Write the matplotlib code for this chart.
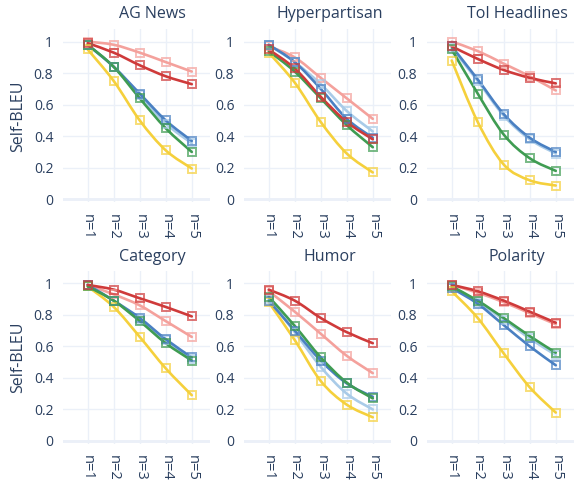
import matplotlib.pyplot as plt
import numpy as np
from matplotlib.path import Path
from matplotlib.patches import PathPatch

plt.rcParams['font.family'] = ['Open Sans', 'DejaVu Sans']

ngrams = ["n=1", "n=2", "n=3", "n=4", "n=5"]
titles = ["AG News", "Hyperpartisan", "ToI Headlines", "Category", "Humor", "Polarity"]

# one list per series, one row per dataset (same order as titles)
pink = [
    [1.00, 0.98, 0.93, 0.87, 0.81],
    [0.97, 0.90, 0.77, 0.64, 0.51],
    [1.00, 0.94, 0.86, 0.78, 0.69],
    [0.99, 0.93, 0.86, 0.76, 0.66],
    [0.95, 0.82, 0.68, 0.54, 0.43],
    [0.99, 0.94, 0.88, 0.81, 0.74],
]
light_blue = [
    [0.98, 0.84, 0.66, 0.48, 0.355],
    [0.98, 0.87, 0.73, 0.56, 0.43],
    [0.96, 0.75, 0.53, 0.38, 0.29],
    [0.99, 0.89, 0.77, 0.64, 0.52],
    [0.90, 0.69, 0.47, 0.30, 0.20],
    [0.98, 0.88, 0.77, 0.65, 0.545],
]
yellow = [
    [0.95, 0.75, 0.50, 0.31, 0.195],
    [0.93, 0.74, 0.49, 0.29, 0.17],
    [0.88, 0.49, 0.22, 0.12, 0.087],
    [0.98, 0.85, 0.66, 0.46, 0.29],
    [0.88, 0.64, 0.38, 0.23, 0.15],
    [0.95, 0.78, 0.555, 0.34, 0.18],
]
blue = [
    [0.98, 0.84, 0.67, 0.50, 0.37],
    [0.98, 0.87, 0.70, 0.51, 0.39],
    [0.97, 0.76, 0.54, 0.39, 0.30],
    [0.99, 0.89, 0.78, 0.645, 0.53],
    [0.89, 0.70, 0.51, 0.365, 0.28],
    [0.97, 0.87, 0.735, 0.60, 0.48],
]
green = [
    [0.98, 0.84, 0.64, 0.45, 0.30],
    [0.94, 0.81, 0.64, 0.47, 0.33],
    [0.95, 0.67, 0.41, 0.26, 0.18],
    [0.98, 0.89, 0.76, 0.62, 0.51],
    [0.915, 0.73, 0.53, 0.37, 0.27],
    [0.98, 0.89, 0.78, 0.665, 0.56],
]
red = [
    [0.99, 0.93, 0.85, 0.78, 0.73],
    [0.95, 0.83, 0.65, 0.49, 0.38],
    [0.97, 0.89, 0.82, 0.77, 0.735],
    [0.99, 0.96, 0.905, 0.85, 0.79],
    [0.96, 0.89, 0.78, 0.69, 0.62],
    [0.99, 0.95, 0.89, 0.82, 0.75],
]

series = [
    (pink, "#f4a19c"),
    (light_blue, "#a9cbe8"),
    (yellow, "#f5d03c"),
    (blue, "#4a80c2"),
    (green, "#3f9c52"),
    (red, "#cf3a3a"),
]

TEXT = "#2a3f5f"
GRID = "#ebf0f8"
W, H = 574, 482


def spline_path(x, y):
    # smooth curve through the points (cardinal-style bezier segments)
    pts = np.column_stack([x, y])
    n = len(pts)
    verts = [pts[0]]
    codes = [Path.MOVETO]
    for i in range(n - 1):
        p0 = pts[max(i - 1, 0)]
        p1 = pts[i]
        p2 = pts[i + 1]
        p3 = pts[min(i + 2, n - 1)]
        c1 = p1 + (p2 - p0) / 6.0
        c2 = p2 - (p3 - p1) / 6.0
        verts += [c1, c2, p2]
        codes += [Path.CURVE4] * 3
    return Path(verts, codes)


fig = plt.figure(figsize=(W / 100, H / 100), dpi=100)

lefts = [63, 244, 427]
tops = [29, 270.7]
ax_w, ax_h = 147, 173.4
title_x = [152, 330, 517]
title_y = [14, 257]

x = np.arange(len(ngrams))
for k, name in enumerate(titles):
    r, c = divmod(k, 3)
    ax = fig.add_axes([lefts[c] / W, 1 - (tops[r] + ax_h) / H, ax_w / W, ax_h / H])
    ax.set_xlim(-0.95, 4.7)
    ax.set_ylim(-0.02, 1.08)
    for s in ax.spines.values():
        s.set_visible(False)
    ax.set_xticks(x)
    ax.set_xticklabels(ngrams, rotation=-90)
    ax.set_yticks([0, 0.2, 0.4, 0.6, 0.8, 1])
    ax.set_yticklabels(["0", "0.2", "0.4", "0.6", "0.8", "1"])
    ax.tick_params(length=0, labelsize=10, colors=TEXT)
    ax.tick_params(axis="y", pad=7)
    ax.tick_params(axis="x", pad=8, labelsize=10.5)
    ax.grid(True, color=GRID, lw=1)
    ax.axhline(0, color=GRID, lw=2, zorder=0.5)
    ax.set_axisbelow(True)
    for data, col in series:
        vals = np.array(data[k])
        ax.add_patch(PathPatch(spline_path(x, vals), fill=False, edgecolor=col,
                               lw=1.9, zorder=2, capstyle="round", joinstyle="round"))
        ax.plot(x, vals, ls="none", marker="s", ms=6.2, mfc="none", mec=col,
                mew=1.4, alpha=0.7, zorder=3)
    fig.text(title_x[c] / W, 1 - title_y[r] / H, name, ha="center", va="center",
             fontsize=11.5, color=TEXT)
    if c == 0:
        fig.text(18 / W, 1 - (tops[r] + 87) / H, "Self-BLEU", rotation=90,
                 ha="center", va="center", fontsize=11.5, color=TEXT)

fig.savefig("out.png", dpi=100)
